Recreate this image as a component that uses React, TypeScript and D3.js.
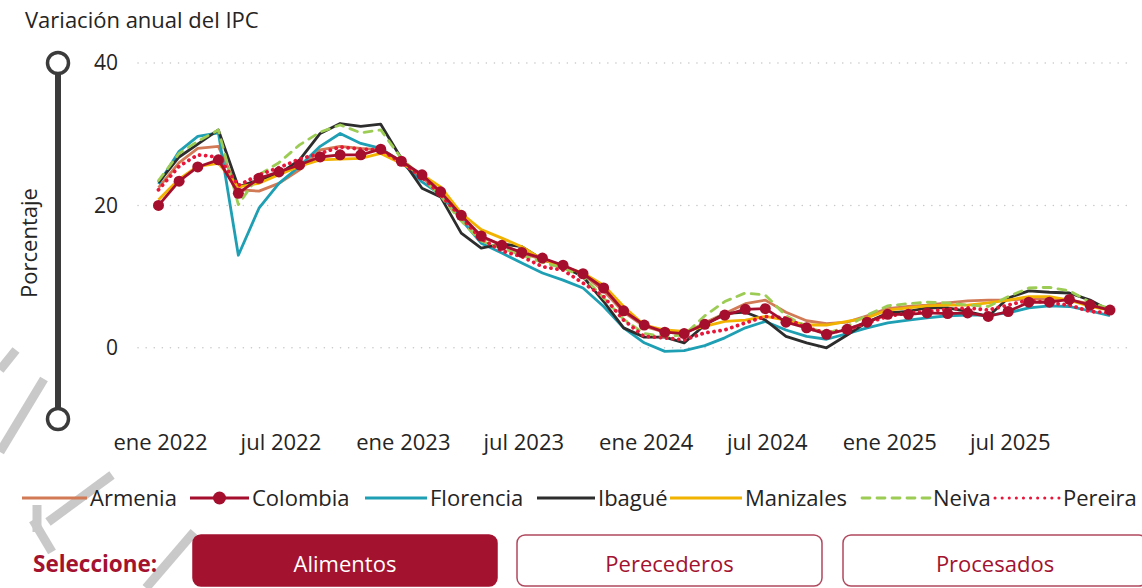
import { useEffect, useRef } from "react";
import * as d3 from "d3";

const months = d3.timeMonth.range(new Date(2022, 0, 1), new Date(2026, 0, 1));

const armenia = [22.5, 26.0, 28.0, 28.3, 22.2, 22.0, 23.1, 25.0, 27.8, 28.3, 28.0, 27.8, 26.0, 24.0, 21.5, 18.5, 15.5, 14.5, 13.3, 12.4, 11.5, 10.3, 8.0, 5.0, 3.0, 2.2, 2.0, 3.5, 4.8, 6.2, 6.7, 5.0, 3.8, 3.4, 3.6, 4.5, 5.5, 5.8, 6.0, 6.3, 6.6, 6.7, 6.7, 6.9, 6.8, 6.7, 6.2, 5.4];
const colombia = [20.0, 23.4, 25.4, 26.4, 21.7, 23.8, 24.7, 25.7, 26.8, 27.1, 27.1, 27.9, 26.2, 24.3, 21.9, 18.6, 15.7, 14.4, 13.4, 12.6, 11.6, 10.4, 8.4, 5.2, 3.2, 2.2, 2.0, 3.3, 4.6, 5.4, 5.5, 3.6, 2.8, 1.9, 2.6, 3.6, 4.7, 4.7, 4.9, 4.8, 4.9, 4.4, 5.1, 6.4, 6.4, 6.8, 6.0, 5.3];
const florencia = [23.0, 27.6, 29.7, 30.2, 13.0, 19.6, 23.1, 25.5, 28.3, 30.1, 28.7, 28.0, 26.1, 23.3, 21.5, 18.0, 14.7, 13.3, 11.9, 10.5, 9.5, 8.4, 5.8, 2.8, 0.7, -0.5, -0.4, 0.3, 1.4, 2.8, 3.7, 2.5, 1.6, 1.2, 2.0, 2.8, 3.5, 3.9, 4.2, 4.5, 4.6, 4.6, 4.9, 5.6, 5.9, 5.8, 5.2, 4.5];
const ibague = [23.2, 26.8, 28.6, 30.6, 22.6, 23.6, 24.4, 26.4, 30.1, 31.5, 31.1, 31.4, 26.6, 22.4, 21.2, 16.1, 14.0, 14.6, 14.2, 12.4, 11.4, 10.0, 6.5, 2.8, 1.5, 1.5, 0.7, 3.2, 4.8, 5.0, 3.9, 1.6, 0.7, 0.0, 1.8, 3.6, 4.9, 5.1, 5.6, 5.6, 5.1, 4.4, 7.0, 8.0, 7.8, 7.7, 6.7, 5.2];
const manizales = [20.8, 23.7, 25.5, 25.9, 22.6, 23.1, 24.3, 25.5, 26.4, 26.5, 26.6, 27.3, 25.9, 24.3, 22.6, 18.9, 16.6, 15.4, 14.2, 12.4, 11.4, 10.5, 8.8, 5.8, 3.2, 2.5, 2.3, 3.0, 3.7, 3.9, 4.4, 3.9, 3.2, 3.2, 3.7, 4.2, 5.3, 5.6, 5.9, 6.0, 6.0, 6.3, 6.7, 7.2, 7.2, 6.7, 5.8, 5.3];
const neiva = [23.5, 27.3, 29.0, 30.6, 20.1, 24.3, 26.0, 28.5, 30.3, 31.3, 30.2, 30.6, 26.6, 23.9, 21.3, 17.8, 15.0, 14.0, 13.0, 12.0, 11.2, 10.0, 7.0, 4.0, 2.0, 1.6, 1.8, 4.5, 6.5, 7.7, 7.4, 4.5, 3.0, 2.0, 3.0, 4.6, 5.9, 6.2, 6.4, 6.3, 6.0, 5.8, 7.2, 8.4, 8.5, 8.0, 6.4, 5.5];
const pereira = [22.2, 25.5, 27.1, 26.8, 22.8, 24.3, 25.3, 26.5, 27.3, 28.2, 27.9, 27.8, 26.0, 24.0, 21.5, 18.3, 15.3, 13.6, 12.8, 11.4, 10.9, 9.1, 7.2, 3.9, 1.6, 1.4, 1.1, 2.1, 2.5, 3.5, 4.4, 4.2, 2.8, 2.1, 2.5, 3.5, 4.4, 4.9, 5.1, 5.4, 5.6, 5.3, 6.0, 6.7, 6.3, 6.0, 5.1, 4.9];

const yTicks = [0, 20, 40];
const monthNames = ["ene", "feb", "mar", "abr", "may", "jun", "jul", "ago", "sep", "oct", "nov", "dic"];
const buttons = ["Alimentos", "Perecederos", "Procesados"];

const series = [
  { name: "Armenia", values: armenia, color: "#d27a55", dash: null, marker: false },
  { name: "Colombia", values: colombia, color: "#a50f2d", dash: null, marker: true },
  { name: "Florencia", values: florencia, color: "#1e9fb3", dash: null, marker: false },
  { name: "Ibagué", values: ibague, color: "#2d2d2d", dash: null, marker: false },
  { name: "Manizales", values: manizales, color: "#f2b200", dash: null, marker: false },
  { name: "Neiva", values: neiva, color: "#9dcc55", dash: "8,7", marker: false },
  { name: "Pereira", values: pereira, color: "#e8173a", dash: "0.1,6", marker: false },
];

const drawOrder = ["Armenia", "Florencia", "Ibagué", "Manizales", "Neiva", "Pereira", "Colombia"];
const FONT = "'Segoe UI', 'Open Sans', sans-serif";
const TEXT = "#252423";

// gray strokes of the overlay in the lower left corner
const overlay = [
  [0, 370, 16, 350],
  [44, 379, 0, 452],
  [37, 505, 37, 532],
  [48, 522, 112, 475],
  [33, 520, 52, 552],
  [146, 588, 194, 532],
];

export default function App() {
  const svgRef = useRef<SVGSVGElement>(null);

  useEffect(() => {
    const width = 1142;
    const height = 588;
    const svg = d3.select(svgRef.current).attr("width", width).attr("height", height);
    svg.selectAll("*").remove();

    const x = d3.scaleTime().domain([months[0], months[months.length - 1]]).range([158.5, 1110]);
    const y = d3.scaleLinear().domain([-10, 40]).range([419, 63]);

    svg
      .append("g")
      .selectAll("line")
      .data(overlay)
      .enter()
      .append("line")
      .attr("x1", (d) => d[0])
      .attr("y1", (d) => d[1])
      .attr("x2", (d) => d[2])
      .attr("y2", (d) => d[3])
      .attr("stroke", "#c9c9c9")
      .attr("stroke-width", 9);

    svg
      .append("text")
      .attr("x", 25)
      .attr("y", 28)
      .attr("font-family", FONT)
      .attr("font-size", 22)
      .attr("fill", TEXT)
      .text("Variación anual del IPC");

    // grid
    svg
      .append("g")
      .selectAll("line")
      .data(yTicks)
      .enter()
      .append("line")
      .attr("x1", 138)
      .attr("x2", 1130)
      .attr("y1", (d) => y(d))
      .attr("y2", (d) => y(d))
      .attr("stroke", "#c8c8c8")
      .attr("stroke-width", 1.5)
      .attr("stroke-linecap", "round")
      .attr("stroke-dasharray", "0.1,8");

    svg
      .append("g")
      .selectAll("text")
      .data(yTicks)
      .enter()
      .append("text")
      .attr("x", 118)
      .attr("y", (d) => y(d))
      .attr("dy", "0.35em")
      .attr("text-anchor", "end")
      .attr("font-family", FONT)
      .attr("font-size", 21)
      .attr("fill", TEXT)
      .text((d) => d);

    svg
      .append("text")
      .attr("transform", "translate(37,243) rotate(-90)")
      .attr("text-anchor", "middle")
      .attr("font-family", FONT)
      .attr("font-size", 22)
      .attr("fill", TEXT)
      .text("Porcentaje");

    // range slider
    const slider = svg.append("g");
    slider
      .append("line")
      .attr("x1", 58)
      .attr("x2", 58)
      .attr("y1", y(40))
      .attr("y2", y(-10))
      .attr("stroke", "#3b3b3b")
      .attr("stroke-width", 6);
    slider
      .selectAll("circle")
      .data([40, -10])
      .enter()
      .append("circle")
      .attr("cx", 58)
      .attr("cy", (d) => y(d))
      .attr("r", 10.5)
      .attr("fill", "#fff")
      .attr("stroke", "#3b3b3b")
      .attr("stroke-width", 3.5);

    // x ticks
    const xTicks = d3.timeMonth.every(6)!.range(months[0], d3.timeMonth.offset(months[months.length - 1], 1));
    svg
      .append("g")
      .selectAll("text")
      .data(xTicks)
      .enter()
      .append("text")
      .attr("x", (d) => x(d) + 2)
      .attr("y", 442)
      .attr("dy", "0.35em")
      .attr("text-anchor", "middle")
      .attr("font-family", FONT)
      .attr("font-size", 22)
      .attr("fill", TEXT)
      .text((d) => `${monthNames[d.getMonth()]} ${d.getFullYear()}`);

    // lines
    const line = d3
      .line<number>()
      .x((_, i) => x(months[i]))
      .y((d) => y(d));

    const plot = svg.append("g");
    drawOrder.forEach((name) => {
      const s = series.find((d) => d.name === name)!;
      plot
        .append("path")
        .datum(s.values)
        .attr("d", line)
        .attr("fill", "none")
        .attr("stroke", s.color)
        .attr("stroke-width", s.dash === "0.1,6" ? 3.8 : 2.8)
        .attr("stroke-linejoin", "round")
        .attr("stroke-linecap", s.dash ? "round" : "butt")
        .attr("stroke-dasharray", s.dash ?? null);
      if (s.marker) {
        plot
          .append("g")
          .selectAll("circle")
          .data(s.values)
          .enter()
          .append("circle")
          .attr("cx", (_, i) => x(months[i]))
          .attr("cy", (d) => y(d))
          .attr("r", 5.5)
          .attr("fill", s.color);
      }
    });

    // legend
    const lineStart = [22, 190, 365, 537, 670, 862, 995];
    const textStart = [90, 252, 430, 598, 745, 933, 1063];
    const legend = svg.append("g").attr("transform", "translate(0,498)");
    series.forEach((s, i) => {
      const g = legend.append("g");
      const x1 = lineStart[i];
      const x2 = textStart[i] - 3;
      g.append("line")
        .attr("x1", x1)
        .attr("x2", x2)
        .attr("stroke", s.color)
        .attr("stroke-width", s.dash === "0.1,6" ? 3 : 2.8)
        .attr("stroke-linecap", s.dash ? "round" : "butt")
        .attr("stroke-dasharray", s.dash === "0.1,6" ? "0.1,7" : s.dash ?? null);
      if (s.marker) {
        g.append("circle").attr("cx", (x1 + x2) / 2).attr("r", 6.5).attr("fill", s.color);
      }
      g.append("text")
        .attr("x", textStart[i])
        .attr("dy", "0.35em")
        .attr("font-family", FONT)
        .attr("font-size", 22)
        .attr("fill", TEXT)
        .text(s.name);
    });

    // selector
    svg
      .append("text")
      .attr("x", 33)
      .attr("y", 564)
      .attr("dy", "0.35em")
      .attr("font-family", FONT)
      .attr("font-size", 22.5)
      .attr("font-weight", "bold")
      .attr("fill", "#a3122f")
      .text("Seleccione:");

    const bx = [193, 517, 843];
    const bw = [304, 305, 304];
    buttons.forEach((b, i) => {
      const active = i === 0;
      svg
        .append("rect")
        .attr("x", bx[i])
        .attr("y", 535)
        .attr("width", bw[i])
        .attr("height", 51)
        .attr("rx", 8)
        .attr("fill", active ? "#a3122f" : "#fff")
        .attr("stroke", active ? "#a3122f" : "#b0485e")
        .attr("stroke-width", 1.5);
      svg
        .append("text")
        .attr("x", bx[i] + bw[i] / 2)
        .attr("y", 564)
        .attr("dy", "0.35em")
        .attr("text-anchor", "middle")
        .attr("font-family", FONT)
        .attr("font-size", 22)
        .attr("fill", active ? "#fff" : "#a3122f")
        .text(b);
    });
  }, []);

  return <svg ref={svgRef} style={{ position: "absolute", left: 0, top: 0 }}></svg>;
}
